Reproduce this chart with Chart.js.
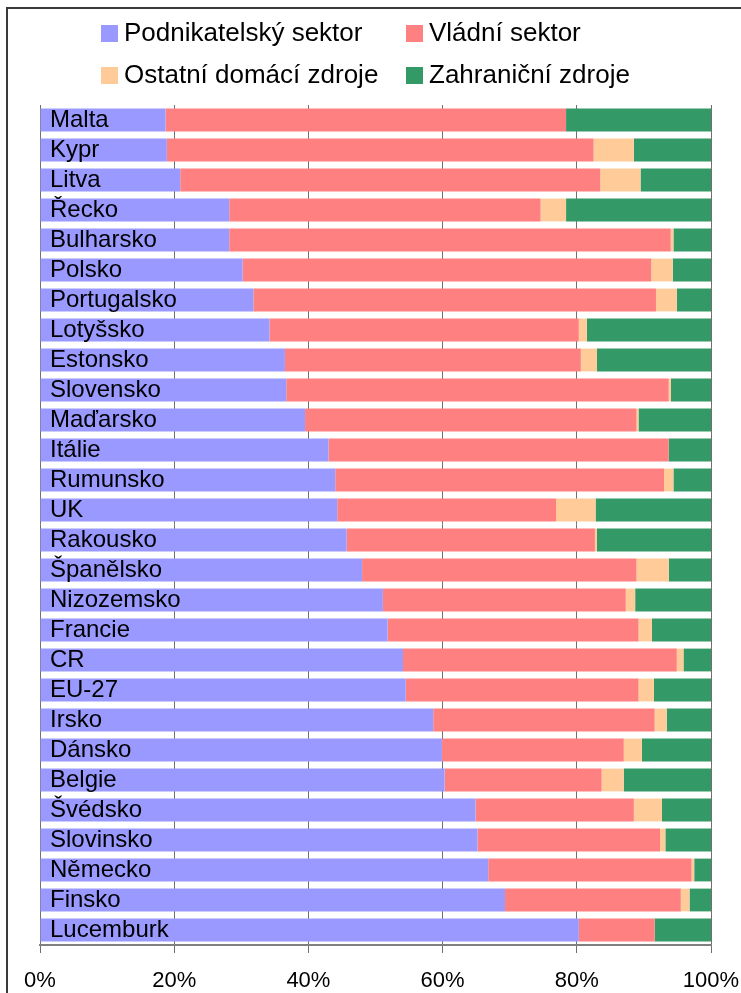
<!DOCTYPE html>
<html>
<head>
<meta charset="utf-8">
<script src="https://cdn.jsdelivr.net/npm/chart.js@4"></script>
<style>
  body { margin: 0; background: #fff; font-family: "Liberation Sans", Arial, sans-serif; }
  #wrap { position: relative; width: 741px; height: 993px; overflow: hidden; }
  #frame { position: absolute; left: 6px; top: 7px; width: 800px; height: 1100px; border: 2px solid #3a3a3a; }
  .item { position: absolute; font-size: 26px; color: #000; line-height: 26px; white-space: nowrap; }
  .item span { display: inline-block; width: 17px; height: 17px; margin-right: 6px; vertical-align: -1px; }
</style>
</head>
<body>
<div id="wrap">
  <div id="frame"></div>
  <canvas id="chart" width="741" height="993" style="position:absolute;left:0;top:0"></canvas>
  <div id="legend"></div>
</div>
<script>
var countries = ['Malta', 'Kypr', 'Litva', 'Řecko', 'Bulharsko', 'Polsko', 'Portugalsko', 'Lotyšsko',
  'Estonsko', 'Slovensko', 'Maďarsko', 'Itálie', 'Rumunsko', 'UK', 'Rakousko', 'Španělsko',
  'Nizozemsko', 'Francie', 'CR', 'EU-27', 'Irsko', 'Dánsko', 'Belgie', 'Švédsko', 'Slovinsko',
  'Německo', 'Finsko', 'Lucemburk'];

var business = [18.7, 18.9, 20.9, 28.2, 28.2, 30.2, 31.8, 34.2, 36.5, 36.7, 39.5, 43.0, 44.0, 44.3,
  45.7, 48.0, 51.1, 51.8, 54.1, 54.5, 58.6, 59.9, 60.3, 64.9, 65.2, 66.8, 69.3, 80.3];
var government = [59.7, 63.6, 62.6, 46.4, 65.8, 60.9, 60.0, 46.1, 44.1, 57.0, 49.4, 50.7, 49.0, 32.6,
  37.0, 40.9, 36.2, 37.4, 40.8, 34.7, 33.0, 27.1, 23.4, 23.6, 27.2, 30.3, 26.2, 11.3];
var otherDomestic = [0, 6.0, 6.0, 3.8, 0.4, 3.2, 3.1, 1.2, 2.4, 0.3, 0.3, 0, 1.4, 5.9,
  0.3, 4.8, 1.4, 2.0, 1.0, 2.3, 1.8, 2.7, 3.3, 4.2, 0.8, 0.4, 1.3, 0];
var foreign = [21.6, 11.5, 10.5, 21.6, 5.6, 5.7, 5.1, 18.5, 17.0, 6.0, 10.8, 6.3, 5.6, 17.2,
  17.0, 6.3, 11.3, 8.8, 4.1, 8.5, 6.6, 10.3, 13.0, 7.3, 6.8, 2.5, 3.2, 8.4];

var seriesNames = ['Podnikatelský sektor', 'Vládní sektor', 'Ostatní domácí zdroje', 'Zahraniční zdroje'];
var seriesColors = ['#9999ff', '#ff8080', '#ffcc99', '#339966'];
var xTicks = [0, 20, 40, 60, 80, 100];

// legend laid out in two fixed columns like the original
var legendPos = [[101, 19], [406, 19], [101, 61], [406, 61]];
var legend = document.getElementById('legend');
seriesNames.forEach(function(name, i) {
  var d = document.createElement('div');
  d.className = 'item';
  d.style.left = legendPos[i][0] + 'px';
  d.style.top = legendPos[i][1] + 'px';
  d.innerHTML = '<span style="background:' + seriesColors[i] + '"></span>' + name;
  legend.appendChild(d);
});

var values = [business, government, otherDomestic, foreign];
var ctx = document.getElementById('chart').getContext('2d');
var chart = new Chart(ctx, {
  type: 'bar',
  data: {
    labels: countries,
    datasets: values.map(function(v, i) {
      return {
        label: seriesNames[i],
        data: v,
        backgroundColor: seriesColors[i],
        borderWidth: 0,
        barPercentage: 0.76,
        categoryPercentage: 1
      };
    })
  },
  options: {
    indexAxis: 'y',
    responsive: false,
    animation: false,
    layout: { padding: { top: 105, left: 40, right: 30, bottom: 0 } },
    plugins: { legend: { display: false }, tooltip: { enabled: false } },
    scales: {
      x: {
        stacked: true,
        min: 0,
        max: 100,
        afterBuildTicks: function(axis) {
          axis.ticks = xTicks.map(function(v) { return { value: v }; });
        },
        afterFit: function(axis) {
          axis.height = 48;
          axis.paddingLeft = 0;
          axis.paddingRight = 0;
        },
        grid: { color: '#707070', lineWidth: 1, tickLength: 8 },
        border: { color: '#808080', width: 2 },
        ticks: {
          color: '#000',
          padding: 15,
          font: { family: 'Liberation Sans', size: 22 },
          maxRotation: 0,
          callback: function(v) { return v + '%'; }
        }
      },
      y: {
        stacked: true,
        afterFit: function(axis) { axis.width = 0; },
        grid: { display: false, drawTicks: false },
        border: { display: false },
        ticks: {
          z: 1,   // country names sit on top of the bars
          mirror: true,
          autoSkip: false,
          padding: 10,
          color: '#000',
          font: { family: 'Liberation Sans', size: 24 }
        }
      }
    }
  }
});
</script>
</body>
</html>
